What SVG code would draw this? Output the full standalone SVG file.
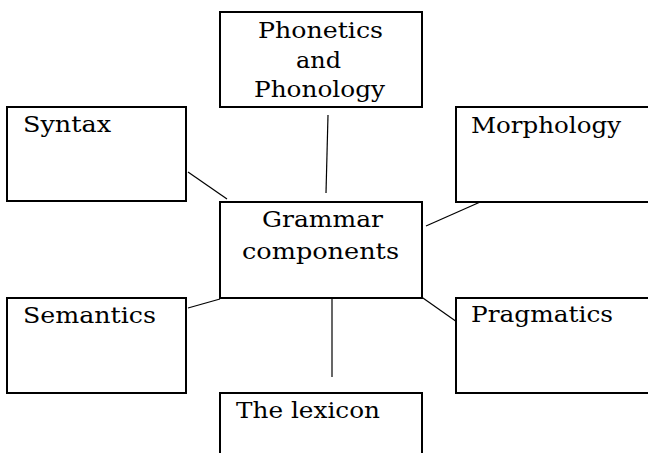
<svg xmlns="http://www.w3.org/2000/svg" width="648" height="453" viewBox="0 0 648 453">
<style>
.box{fill:#fff;stroke:#000;stroke-width:2}
.t{font-family:"DejaVu Serif","Liberation Serif",serif;font-size:22.5px;fill:#000}
.ln{stroke:#000;stroke-width:1.2;fill:none}
</style>
<rect width="648" height="453" fill="#fff"/>
<g id="connectors">
<line class="ln" x1="328" y1="115" x2="326" y2="193"/>
<line class="ln" x1="188" y1="172" x2="227" y2="199"/>
<line class="ln" x1="426" y1="226" x2="487" y2="199"/>
<line class="ln" x1="413" y1="291" x2="457" y2="322"/>
<line class="ln" x1="188" y1="308" x2="220" y2="299"/>
<line class="ln" x1="332" y1="295" x2="332" y2="377"/>
</g>
<g id="phonetics">
<rect class="box" x="220" y="12" width="202" height="95"/>
<text class="t" x="258" y="38" textLength="125" lengthAdjust="spacingAndGlyphs">Phonetics</text>
<text class="t" x="296" y="68" textLength="45" lengthAdjust="spacingAndGlyphs">and</text>
<text class="t" x="254" y="97" textLength="131" lengthAdjust="spacingAndGlyphs">Phonology</text>
</g>
<g id="syntax">
<rect class="box" x="7" y="107" width="179" height="94"/>
<text class="t" x="23" y="132" textLength="88" lengthAdjust="spacingAndGlyphs">Syntax</text>
</g>
<g id="morphology">
<rect class="box" x="456" y="107" width="200" height="95"/>
<text class="t" x="471" y="133" textLength="150" lengthAdjust="spacingAndGlyphs">Morphology</text>
</g>
<g id="grammar">
<rect class="box" x="220" y="202" width="202" height="96"/>
<text class="t" x="262" y="227" textLength="121" lengthAdjust="spacingAndGlyphs">Grammar</text>
<text class="t" x="242" y="259" textLength="157" lengthAdjust="spacingAndGlyphs">components</text>
</g>
<g id="semantics">
<rect class="box" x="7" y="298" width="179" height="95"/>
<text class="t" x="23" y="323" textLength="133" lengthAdjust="spacingAndGlyphs">Semantics</text>
</g>
<g id="pragmatics">
<rect class="box" x="456" y="298" width="200" height="95"/>
<text class="t" x="471" y="322" textLength="142" lengthAdjust="spacingAndGlyphs">Pragmatics</text>
</g>
<g id="lexicon">
<rect class="box" x="220" y="393" width="202" height="70"/>
<text class="t" x="236" y="418" textLength="144" lengthAdjust="spacingAndGlyphs">The lexicon</text>
</g>
</svg>
